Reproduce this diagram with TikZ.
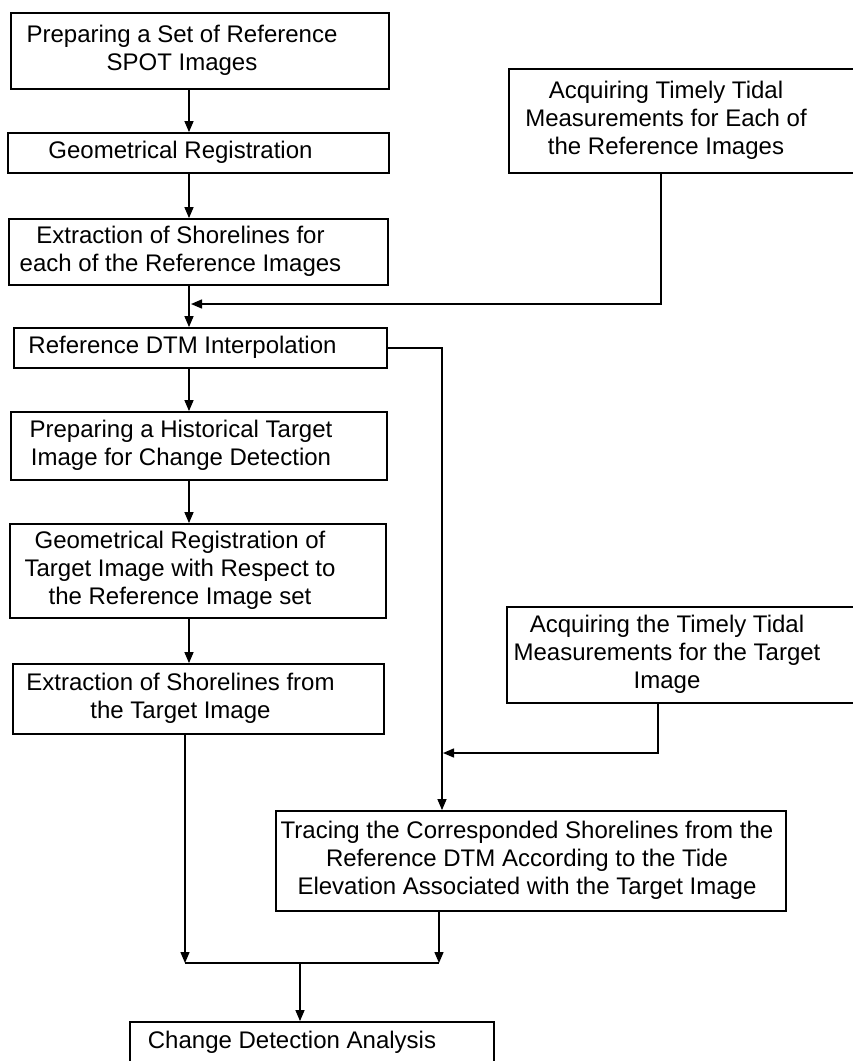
\documentclass[tikz,border=0pt]{standalone}
\usepackage{fontspec}
\setmainfont{Liberation Sans}
\usetikzlibrary{arrows.meta}
\newcommand{\steptext}[2][36pt]{\begin{tabular}{@{}c@{}}#2\end{tabular}\hspace*{#1}}

\begin{document}
\begin{tikzpicture}[x=1pt, y=-1pt,
    stepbox/.style={draw, line width=1.8pt, inner sep=0pt, font=\fontsize{24}{28}\selectfont},
    flow/.style={line width=1.4pt, -{Triangle[length=11pt,width=9pt]}},
    link/.style={line width=1.4pt}]
  \useasboundingbox (0,0) rectangle (853,1061);

  % reference images chain
  \node[stepbox, minimum width=378pt, minimum height=76pt] (refset) at (200,51) {\steptext{Preparing a Set of Reference\\SPOT Images}};
  \node[stepbox, minimum width=381pt, minimum height=40pt] (georeg) at (198.5,153) {\steptext{Geometrical Registration}};
  \node[stepbox, minimum width=379pt, minimum height=66pt] (refshore) at (198.5,252) {\steptext{Extraction of Shorelines for\\each of the Reference Images}};
  \node[stepbox, minimum width=373pt, minimum height=40pt] (dtm) at (200.5,348) {\steptext{Reference DTM Interpolation}};

  % target image chain
  \node[stepbox, minimum width=376pt, minimum height=68pt] (target) at (199,446) {\steptext{Preparing a Historical Target\\Image for Change Detection}};
  \node[stepbox, minimum width=376pt, minimum height=94pt] (tgtreg) at (198,571) {\steptext{Geometrical Registration of\\Target Image with Respect to\\the Reference Image set}};
  \node[stepbox, minimum width=371pt, minimum height=70pt] (tgtshore) at (198.5,699) {\steptext{Extraction of Shorelines from\\the Target Image}};

  % tidal measurements
  \node[stepbox, minimum width=349pt, minimum height=104pt] (tideref) at (683.5,121) {\steptext[35pt]{Acquiring Timely Tidal\\Measurements for Each of\\the Reference Images}};
  \node[stepbox, minimum width=351pt, minimum height=96pt] (tidetgt) at (682.5,655) {\steptext[31pt]{Acquiring the Timely Tidal\\Measurements for the Target\\Image}};

  % tracing and analysis
  \node[stepbox, minimum width=510pt, minimum height=100pt] (trace) at (531,861) {\steptext[8pt]{Tracing the Corresponded Shorelines from the\\Reference DTM According to the Tide\\Elevation Associated with the Target Image}};
  \node[stepbox, minimum width=364pt, minimum height=42pt] (change) at (312,1043) {\steptext[40pt]{Change Detection Analysis}};

  % joints
  \coordinate (spine) at (189,0);
  \coordinate (refjoin) at (191,304);
  \coordinate (tidedrop) at (661,0);
  \coordinate (bus) at (442,0);
  \coordinate (tgtdrop) at (658,0);
  \coordinate (tgtjoin) at (443,753);
  \coordinate (mergeL) at (185,963);
  \coordinate (mergeR) at (439,963);
  \coordinate (mergeM) at (300,963);

  % main column
  \draw[flow] (refset.south -| spine) -- (georeg.north -| spine);
  \draw[flow] (georeg.south -| spine) -- (refshore.north -| spine);
  \draw[flow] (refshore.south -| spine) -- (dtm.north -| spine);
  \draw[flow] (dtm.south -| spine) -- (target.north -| spine);
  \draw[flow] (target.south -| spine) -- (tgtreg.north -| spine);
  \draw[flow] (tgtreg.south -| spine) -- (tgtshore.north -| spine);

  % side feeds
  \draw[flow] (tideref.south -| tidedrop) |- (refjoin);
  \draw[flow] (dtm.east) -| (trace.north -| bus);
  \draw[flow] (tidetgt.south -| tgtdrop) |- (tgtjoin);

  % merge into analysis
  \draw[flow] (tgtshore.south -| mergeL) -- (mergeL);
  \draw[flow] (trace.south -| mergeR) -- (mergeR);
  \draw[link] (mergeL) -- (mergeR);
  \draw[flow] (mergeM) -- (change.north -| mergeM);
\end{tikzpicture}
\end{document}
